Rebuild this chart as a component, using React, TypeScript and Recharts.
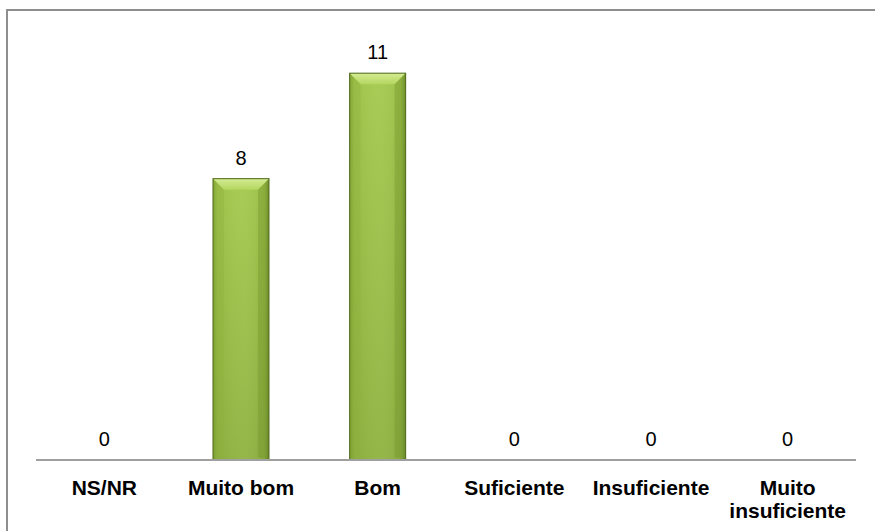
import { BarChart, Bar, XAxis, YAxis, LabelList, Text } from 'recharts';

const categories = ['NS/NR', 'Muito bom', 'Bom', 'Suficiente', 'Insuficiente', 'Muito insuficiente'];
const counts = [0, 8, 11, 0, 0, 0];

const data = categories.map((name, i) => ({ name, value: counts[i] }));

const FONT = '"Liberation Sans", Arial, sans-serif';

// bevelled green bar, like the office "bevel" preset
const BevelBar = (props: any) => {
  const { x, y, width, height } = props;
  if (!height || height <= 0) return null;
  const b = Math.min(11, height / 2);
  return (
    <g>
      <rect x={x} y={y} width={width} height={height} fill="url(#barBody)" />
      <rect x={x} y={y} width={width} height={height} fill="url(#barSides)" />
      {/* top bevel */}
      <polygon
        points={`${x},${y} ${x + width},${y} ${x + width - b},${y + b} ${x + b},${y + b}`}
        fill="url(#barTop)"
      />
      {/* left / right bevel */}
      <polygon
        points={`${x},${y} ${x + b},${y + b} ${x + b},${y + height - 3} ${x},${y + height}`}
        fill="#8fb33f"
        opacity={0.35}
      />
      <polygon
        points={`${x + width},${y} ${x + width - b},${y + b} ${x + width - b},${y + height - 3} ${x + width},${y + height}`}
        fill="#6f8e2a"
        opacity={0.35}
      />
      <rect x={x} y={y} width={width} height={height} fill="none" stroke="#4f6a1c" strokeWidth={1} />
    </g>
  );
};

const CategoryTick = (props: any) => {
  const { x, y, payload } = props;
  return (
    <Text
      x={x}
      y={y + 12}
      width={130}
      textAnchor="middle"
      verticalAnchor="start"
      lineHeight={23}
      style={{ fontFamily: FONT, fontSize: 21, fontWeight: 'bold', fill: '#000' }}
    >
      {payload.value}
    </Text>
  );
};

export default function App() {
  return (
    <div style={{ position: 'absolute', left: 0, top: 0, width: 875, height: 531, overflow: 'hidden', background: '#fff' }}>
      <div
        style={{
          position: 'absolute',
          left: 6,
          top: 9,
          width: 900,
          height: 560,
          border: '2px solid #8e8e8e',
        }}
      />
      <div style={{ position: 'absolute', left: 0, top: 0 }}>
        <BarChart
          width={875}
          height={531}
          data={data}
          margin={{ top: 38, right: 19, left: 36, bottom: 0 }}
          barCategoryGap="29.5%"
        >
          <defs>
            <linearGradient id="barBody" x1="0" y1="0" x2="0" y2="1">
              <stop offset="0%" stopColor="#a3c94c" />
              <stop offset="100%" stopColor="#8eb23f" />
            </linearGradient>
            <linearGradient id="barSides" x1="0" y1="0" x2="1" y2="0">
              <stop offset="0%" stopColor="#5f7d22" stopOpacity={0.55} />
              <stop offset="8%" stopColor="#5f7d22" stopOpacity={0.1} />
              <stop offset="50%" stopColor="#ffffff" stopOpacity={0.05} />
              <stop offset="92%" stopColor="#5f7d22" stopOpacity={0.15} />
              <stop offset="100%" stopColor="#4b661a" stopOpacity={0.6} />
            </linearGradient>
            <linearGradient id="barTop" x1="0" y1="0" x2="0" y2="1">
              <stop offset="0%" stopColor="#d4ec94" />
              <stop offset="100%" stopColor="#b4d660" />
            </linearGradient>
          </defs>
          <XAxis
            dataKey="name"
            height={71}
            axisLine={{ stroke: '#a0a0a0', strokeWidth: 2 }}
            tickLine={false}
            interval={0}
            tick={<CategoryTick />}
          />
          <YAxis hide domain={[0, 12]} width={0} />
          <Bar dataKey="value" shape={<BevelBar />} isAnimationActive={false}>
            <LabelList
              dataKey="value"
              position="top"
              offset={14}
              style={{ fontFamily: FONT, fontSize: 20, fill: '#000' }}
            />
          </Bar>
        </BarChart>
      </div>
    </div>
  );
}
